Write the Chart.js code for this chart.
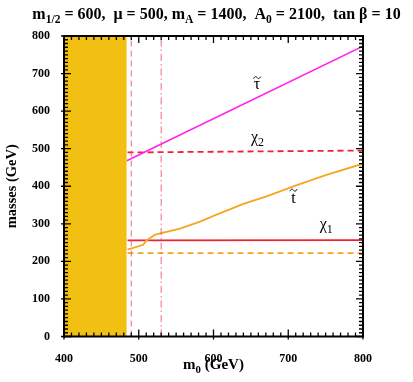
<!DOCTYPE html>
<html>
<head>
<meta charset="utf-8">
<script src="https://cdn.jsdelivr.net/npm/chart.js@4.4.1/dist/chart.umd.min.js"></script>
<style>
	html, body { margin: 0; padding: 0; background: #fff; }
	#wrap { width: 413px; height: 382px; }
</style>
</head>
<body>
<div id="wrap"><canvas id="massGraph" width="413" height="382"></canvas></div>
<script>
// m0 range (GeV) and mass values
const xTicks = [400, 500, 600, 700, 800];
const yTicks = [0, 100, 200, 300, 400, 500, 600, 700, 800];
const minorStep = 10;

const excludedM0 = [400, 484];
const excludedMass = [800, 800];

const stauM0 = [484, 800];
const stauMass = [468, 773];

const chi2M0 = [485, 800];
const chi2Mass = [490, 495];

const chi1M0 = [485, 800];
const chi1Mass = [256, 256.5];

const stopM0 = [485, 506, 510, 522, 555, 582, 600, 640, 671, 706, 752, 800];
const stopMass = [231, 244, 255, 271, 287, 306, 321, 353, 373, 399, 431, 460];

const stopDashM0 = [485, 800];
const stopDashMass = [222, 222];

const vDashM0 = 490;
const vDashDotM0 = 530;

// curve labels, in data coordinates
const curveLabels = [
	{ text: "τ", sub: "", tilde: true, x: 654, y: 660 },
	{ text: "χ", sub: "2", tilde: false, x: 650, y: 518 },
	{ text: "t", sub: "", tilde: true, x: 704, y: 355 },
	{ text: "χ", sub: "1", tilde: false, x: 742, y: 285 },
];

const SERIF = "'Liberation Serif', 'DejaVu Serif', serif";

const toPoints = (xs, ys) => xs.map((x, i) => ({ x, y: ys[i] }));

// draws text pieces with subscripts, returns width
const drawPieces = (ctx, pieces, x, y, size, measureOnly) => {
	let cx = x;
	pieces.forEach(([txt, isSub]) => {
		const s = isSub ? size * 0.72 : size;
		ctx.font = `bold ${s}px ${SERIF}`;
		if (!measureOnly) ctx.fillText(txt, cx, isSub ? y + size * 0.28 : y);
		cx += ctx.measureText(txt).width;
	});
	return cx - x;
};

const framePlugin = {
	id: "framePlugin",
	afterDraw(chart) {
		const { ctx, chartArea: a, scales } = chart;
		const xs = scales.x;
		const ys = scales.y;
		ctx.save();
		ctx.setLineDash([]);
		ctx.strokeStyle = "#000";
		ctx.fillStyle = "#000";

		// minor + major ticks, inward on all sides
		ctx.lineWidth = 1.3;
		ctx.beginPath();
		for (let v = xs.min; v <= xs.max; v += minorStep) {
			const px = xs.getPixelForValue(v);
			const major = v % 100 === 0;
			const len = major ? 7 : 4;
			ctx.moveTo(px, a.bottom + (major ? 3 : 0));
			ctx.lineTo(px, a.bottom - len);
			ctx.moveTo(px, a.top);
			ctx.lineTo(px, a.top + len);
		}
		for (let v = ys.min; v <= ys.max; v += minorStep) {
			const py = ys.getPixelForValue(v);
			const major = v % 100 === 0;
			const len = major ? 7 : 4;
			ctx.moveTo(a.left - (major ? 3 : 0), py);
			ctx.lineTo(a.left + len, py);
			ctx.moveTo(a.right, py);
			ctx.lineTo(a.right - len, py);
		}
		ctx.stroke();

		// frame
		ctx.lineWidth = 2;
		ctx.strokeRect(a.left, a.top, a.right - a.left, a.bottom - a.top);

		// curve labels
		ctx.textBaseline = "alphabetic";
		curveLabels.forEach((lab) => {
			const px = xs.getPixelForValue(lab.x);
			const py = ys.getPixelForValue(lab.y);
			ctx.font = `16px ${SERIF}`;
			ctx.textAlign = "left";
			const w = ctx.measureText(lab.text).width;
			ctx.fillText(lab.text, px, py);
			if (lab.tilde) {
				// small tilde accent
				const cx = px + w / 2;
				const ty = lab.text === "t" ? py - 13 : py - 11;
				ctx.lineWidth = 1;
				ctx.beginPath();
				ctx.moveTo(cx - 3.5, ty + 1);
				ctx.bezierCurveTo(cx - 2, ty - 2, cx - 1, ty - 1, cx, ty);
				ctx.bezierCurveTo(cx + 1, ty + 1, cx + 2, ty + 2, cx + 3.5, ty - 1);
				ctx.stroke();
			}
			if (lab.sub) {
				ctx.font = `12px ${SERIF}`;
				ctx.fillText(lab.sub, px + w, py + 4);
			}
		});

		// title
		ctx.textAlign = "left";
		const title = [
			["m", false], ["1/2", true], [" = 600,  μ = 500, m", false], ["A", true],
			[" = 1400,  A", false], ["0", true], [" = 2100,  tan β = 10", false],
		];
		const tw = drawPieces(ctx, title, 0, 0, 16, true);
		drawPieces(ctx, title, 216.5 - tw / 2, 18.5, 16, false);

		// x axis title
		const xt = [["m", false], ["0", true], [" (GeV)", false]];
		const xw = drawPieces(ctx, xt, 0, 0, 15, true);
		drawPieces(ctx, xt, (a.left + a.right) / 2 - xw / 2, 369, 15, false);

		// y axis title
		ctx.translate(16, (a.top + a.bottom) / 2);
		ctx.rotate(-Math.PI / 2);
		ctx.font = `bold 14.5px ${SERIF}`;
		ctx.textAlign = "center";
		ctx.fillText("masses (GeV)", 0, 0);

		ctx.restore();
	},
};

const lineSet = (data, color, width, dash) => ({
	data,
	borderColor: color,
	borderWidth: width,
	borderDash: dash || [],
	pointRadius: 0,
	tension: 0,
	fill: false,
});

const massGraph = document.getElementById("massGraph");

new Chart(massGraph, {
	type: "line",
	data: {
		datasets: [
			{
				...lineSet(toPoints(excludedM0, excludedMass), "#f2c012", 0),
				backgroundColor: "#f2c012",
				fill: "origin",
			},
			lineSet(toPoints([vDashM0, vDashM0], [0, 800]), "rgba(238,80,100,0.85)", 1, [6, 4]),
			lineSet(toPoints([vDashDotM0, vDashDotM0], [0, 800]), "rgba(238,80,100,0.85)", 1, [7, 3, 1.5, 3]),
			lineSet(toPoints(stauM0, stauMass), "#ff22ee", 1.6),
			lineSet(toPoints(chi2M0, chi2Mass), "#ee2233", 1.8, [6, 4]),
			lineSet(toPoints(stopM0, stopMass), "#f5a623", 1.8),
			lineSet(toPoints(chi1M0, chi1Mass), "#ee2233", 1.8),
			lineSet(toPoints(stopDashM0, stopDashMass), "#f5a623", 1.6, [6, 4]),
		],
	},
	options: {
		responsive: false,
		animation: false,
		events: [],
		layout: { padding: { left: 0, top: 36, right: 50, bottom: 0 } },
		plugins: { legend: { display: false }, tooltip: { enabled: false } },
		scales: {
			x: {
				type: "linear",
				min: xTicks[0],
				max: xTicks[xTicks.length - 1],
				afterBuildTicks: (scale) => { scale.ticks = xTicks.map((value) => ({ value })); },
				afterFit: (scale) => { scale.height = 45.5; },
				grid: { display: false },
				border: { display: false },
				ticks: { color: "#000", padding: 7, maxRotation: 0, font: { family: SERIF, size: 12, weight: "bold" } },
			},
			y: {
				type: "linear",
				min: yTicks[0],
				max: yTicks[yTicks.length - 1],
				afterBuildTicks: (scale) => { scale.ticks = yTicks.map((value) => ({ value })); },
				afterFit: (scale) => { scale.width = 64; },
				grid: { display: false },
				border: { display: false },
				ticks: { color: "#000", padding: 6, font: { family: SERIF, size: 12, weight: "bold" } },
			},
		},
	},
	plugins: [framePlugin],
});
</script>
</body>
</html>
